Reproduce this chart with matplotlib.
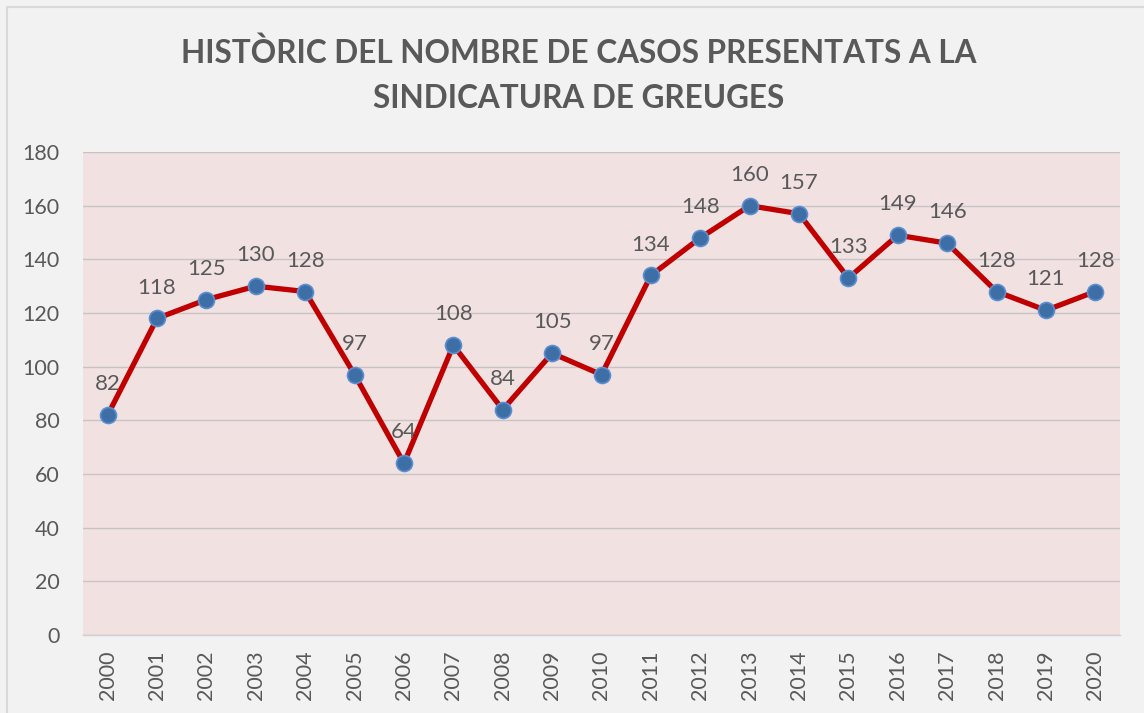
import matplotlib
matplotlib.use("Agg")
import matplotlib.pyplot as plt
from matplotlib.patches import Rectangle

years = [str(y) for y in range(2000, 2021)]
cases = [82, 118, 125, 130, 128, 97, 64, 108, 84, 105, 97, 134, 148, 160, 157, 133, 149, 146, 128, 121, 128]
title = "HISTÒRIC DEL NOMBRE DE CASOS PRESENTATS A LA\nSINDICATURA DE GREUGES"
yticks = list(range(0, 181, 20))

W, H = 1144, 713
fig = plt.figure(figsize=(W/100, H/100), dpi=100)
fig.patch.set_facecolor('#f2f2f2')
fig.patches.append(Rectangle((7/W, -0.01), 2, 1 - 7/H + 0.01, transform=fig.transFigure,
                             fill=False, edgecolor='#d9d9d9', linewidth=1.5))

ax = fig.add_axes([83/W, 1-635/H, (1120-83)/W, (635-152)/H])
ax.set_facecolor('#f2e1e1')
x = list(range(len(years)))
ax.plot(x, cases, color='#c00000', linewidth=3.8, zorder=3,
        marker='o', markersize=11.5, markerfacecolor='#3d6ea6', markeredgecolor='#5b8fd0',
        markeredgewidth=1.2)
for xi, v in zip(x, cases):
    ax.annotate(str(v), (xi, v), xytext=(0, 15), textcoords='offset points',
                ha='center', va='bottom', fontsize=16, color='#595959', family='Lato')

ax.set_xlim(-0.5, len(years)-0.5)
ax.set_ylim(0, 180)
ax.set_yticks(yticks)
ax.set_yticklabels([str(t) for t in yticks], fontsize=15.5, color='#595959', family='Lato')
ax.set_xticks(x)
ax.set_xticklabels(years, rotation=90, fontsize=15.5, color='#595959', family='Lato')
ax.tick_params(length=0)
ax.tick_params(axis='x', pad=11)
ax.tick_params(axis='y', pad=17)
ax.grid(axis='y', color='#c9c4c4', linewidth=1)
ax.set_axisbelow(True)
for s in ['top', 'right', 'left']:
    ax.spines[s].set_visible(False)
ax.spines['bottom'].set_color('#d0d0d0')
ax.spines['bottom'].set_linewidth(1)

fig.text(0.506, 1-75/H, title, ha='center', va='center', fontsize=22.7, fontweight='bold',
         color='#595959', family='Lato', linespacing=1.68)

fig.savefig('out.png', dpi=100, facecolor=fig.get_facecolor())
